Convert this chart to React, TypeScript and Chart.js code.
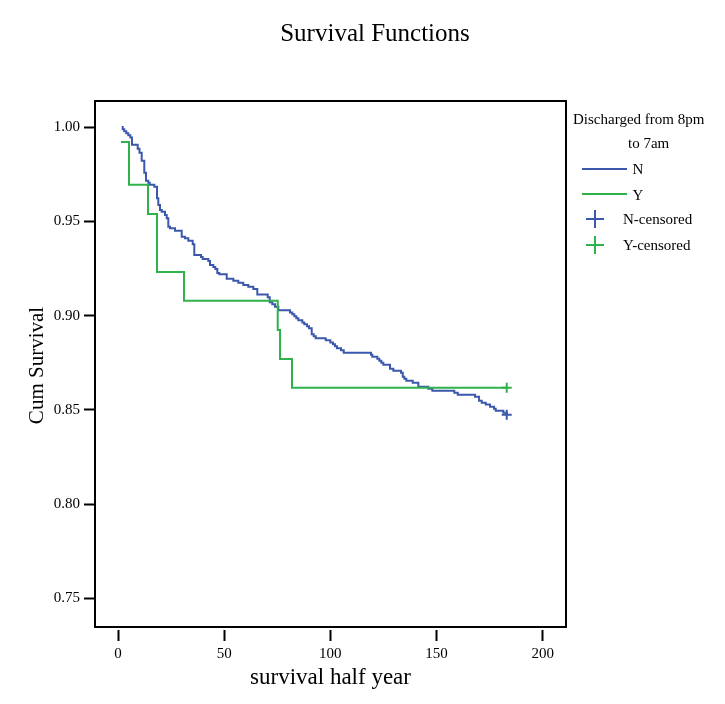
import { useEffect, useRef } from 'react';
import { Chart, registerables } from 'chart.js';

Chart.register(...registerables);

// Kaplan-Meier steps: time of each drop and survival after it
const N_TIME = [
  1.7, 2.17, 2.92, 3.86, 4.81, 5.75, 6.55, 9.23, 10.08, 11.12, 12.34, 13.14, 14.23, 14.89, 17.06,
  18.33, 18.94, 19.74, 20.54, 22.1, 22.9, 23.65, 24.45, 26.81, 29.96, 31.52, 33.07, 35.15, 35.9,
  39.06, 39.86, 42.5, 43.3, 44.85, 45.8, 46.74, 47.68, 51.17, 54.28, 56.63, 58.99, 61.34, 63.7,
  65.58, 70.48, 71.43, 72.65, 73.92, 75.48, 80.99, 82.07, 83.02, 83.96, 84.9, 86.79, 87.73, 89.0,
  89.94, 91.21, 92.16, 93.1, 97.81, 99.98, 101.25, 102.19, 103.13, 105.02, 106.29, 119.15, 119.76,
  122.12, 123.06, 124.0, 124.95, 128.1, 129.66, 133.29, 134.09, 134.84, 135.78, 138.8, 141.44,
  146.15, 148.03, 158.4, 160.0, 168.15, 170.04, 171.31, 173.19, 175.22, 177.1, 177.9, 181.48, 183.08,
];
const N_SURV = [
  1.0, 0.9988, 0.9977, 0.9967, 0.9956, 0.9945, 0.9906, 0.9885, 0.9864, 0.9821, 0.9758, 0.9715,
  0.9705, 0.9694, 0.9683, 0.9622, 0.9586, 0.956, 0.9551, 0.9533, 0.9516, 0.9471, 0.9463, 0.945,
  0.9418, 0.941, 0.9397, 0.9378, 0.9321, 0.9311, 0.93, 0.929, 0.9268, 0.9258, 0.9247, 0.9226,
  0.9219, 0.9196, 0.9185, 0.9174, 0.9162, 0.9153, 0.9141, 0.9112, 0.9097, 0.9071, 0.906, 0.9047,
  0.9028, 0.9017, 0.9007, 0.8996, 0.8986, 0.8975, 0.8964, 0.8954, 0.8943, 0.8933, 0.8901, 0.889,
  0.888, 0.8869, 0.8858, 0.8848, 0.8837, 0.8827, 0.8816, 0.8803, 0.8793, 0.8782, 0.8771, 0.8761,
  0.875, 0.874, 0.8718, 0.8708, 0.8697, 0.8676, 0.8665, 0.8655, 0.8644, 0.8623, 0.8612, 0.8602,
  0.8591, 0.8581, 0.857, 0.8549, 0.8538, 0.8528, 0.8517, 0.8506, 0.8496, 0.8485, 0.8474,
];
const Y_TIME = [1.37, 5.14, 14.09, 18.33, 31.05, 75.2, 76.28, 81.93, 183.08];
const Y_SURV = [0.992, 0.9694, 0.9539, 0.9231, 0.9079, 0.8924, 0.877, 0.8618, 0.8618];

const N_CENSOR = [{ x: 183.08, y: 0.8474 }];
const Y_CENSOR = [{ x: 183.08, y: 0.8618 }];

const X_TICKS = [0, 50, 100, 150, 200];
const Y_TICKS = [0.75, 0.8, 0.85, 0.9, 0.95, 1.0];

const BLUE = '#3c58ac';
const GREEN = '#2fb24b';
const SERIF = '"Liberation Serif", "Times New Roman", serif';

const frame = {
  id: 'frame',
  beforeDatasetsDraw(chart: Chart) {
    const { ctx, chartArea: a } = chart;
    ctx.save();
    ctx.strokeStyle = '#000';
    ctx.lineWidth = 2;
    ctx.strokeRect(a.left, a.top, a.right - a.left, a.bottom - 3 - a.top);
    ctx.restore();
  },
};

const toPts = (t: number[], s: number[]) => t.map((x, i) => ({ x, y: s[i] }));

const Cross = ({ x, y, color }: { x: number; y: number; color: string }) => (
  <svg style={{ position: 'absolute', left: x - 9, top: y - 9 }} width={18} height={18}>
    <line x1={9} y1={0} x2={9} y2={18} stroke={color} strokeWidth={2} />
    <line x1={0} y1={9} x2={18} y2={9} stroke={color} strokeWidth={2} />
  </svg>
);

const Txt = ({ x, y, children }: { x: number; y: number; children: string }) => (
  <div style={{ position: 'absolute', left: x, top: y, fontSize: 15, lineHeight: '18px', whiteSpace: 'nowrap', color: '#000' }}>{children}</div>
);

export default function App() {
  const ref = useRef<HTMLCanvasElement>(null);

  useEffect(() => {
    if (!ref.current) return;
    const tickFont = { family: SERIF, size: 15 };
    const chart = new Chart(ref.current.getContext('2d')!, {
      type: 'scatter',
      data: {
        datasets: [
          { label: 'N-censored', data: N_CENSOR, showLine: false, pointStyle: 'cross', pointRadius: 5, borderColor: BLUE, borderWidth: 2, order: 0 },
          { label: 'Y-censored', data: Y_CENSOR, showLine: false, pointStyle: 'cross', pointRadius: 5, borderColor: GREEN, borderWidth: 2, order: 0 },
          { label: 'Y', data: toPts(Y_TIME, Y_SURV), showLine: true, stepped: true, pointRadius: 0, borderColor: GREEN, borderWidth: 2, order: 1 },
          { label: 'N', data: toPts(N_TIME, N_SURV), showLine: true, stepped: true, pointRadius: 0, borderColor: BLUE, borderWidth: 2, order: 2 },
        ],
      },
      options: {
        responsive: false,
        animation: false,
        layout: { padding: { left: 25, right: 0, top: 0, bottom: 0 } },
        plugins: {
          legend: { display: false },
          tooltip: { enabled: false },
          title: {
            display: true,
            text: 'Survival Functions',
            color: '#000',
            font: { family: SERIF, size: 25, weight: 'normal' },
            padding: { top: 19, bottom: 52 },
          },
        },
        scales: {
          x: {
            type: 'linear',
            min: -10.88,
            max: 211.0,
            afterFit: (s: any) => { s.height = 74; },
            afterBuildTicks: (s: any) => { s.ticks = X_TICKS.map(v => ({ value: v })); },
            ticks: { color: '#000', font: tickFont, padding: 4, maxRotation: 0 },
            grid: { drawOnChartArea: false, drawTicks: true, tickLength: 11, tickWidth: 2, tickColor: '#000' },
            border: { display: false },
            title: { display: true, text: 'survival half year', color: '#000', font: { family: SERIF, size: 23 }, padding: { top: 0, bottom: 12 } },
          },
          y: {
            type: 'linear',
            min: 0.7333,
            max: 1.01379,
            afterFit: (s: any) => { s.width = 70; },
            afterBuildTicks: (s: any) => { s.ticks = Y_TICKS.map(v => ({ value: v })); },
            ticks: { color: '#000', font: tickFont, padding: 4, callback: (v: any) => Number(v).toFixed(2) },
            grid: { drawOnChartArea: false, drawTicks: true, tickLength: 11, tickWidth: 2, tickColor: '#000' },
            border: { display: false },
            title: { display: true, text: 'Cum Survival', color: '#000', font: { family: SERIF, size: 21 }, padding: { top: 0, bottom: 0 } },
          },
          // empty strip on the right that leaves room for the legend
          legendSpace: {
            type: 'linear',
            position: 'right',
            display: true,
            min: 0,
            max: 1,
            afterFit: (s: any) => { s.width = 159; },
            ticks: { display: false },
            grid: { display: false },
            border: { display: false },
          },
        },
      },
      plugins: [frame],
    });
    return () => { chart.destroy(); };
  }, []);

  return (
    <div style={{ position: 'absolute', left: 0, top: 0, width: 725, height: 704, background: '#fff', fontFamily: SERIF }}>
      <canvas ref={ref} width={725} height={704} style={{ display: 'block' }} />
      <Txt x={573} y={110}>Discharged from 8pm</Txt>
      <Txt x={628} y={133.5}>to 7am</Txt>
      <div style={{ position: 'absolute', left: 582, top: 168.3, width: 45, height: 2, background: BLUE }} />
      <Txt x={632.5} y={160}>N</Txt>
      <div style={{ position: 'absolute', left: 582, top: 193.3, width: 45, height: 2, background: GREEN }} />
      <Txt x={632.5} y={185.5}>Y</Txt>
      <Cross x={594.5} y={219} color={BLUE} />
      <Txt x={623} y={210}>N-censored</Txt>
      <Cross x={594.5} y={244.5} color={GREEN} />
      <Txt x={623} y={235.5}>Y-censored</Txt>
    </div>
  );
}
